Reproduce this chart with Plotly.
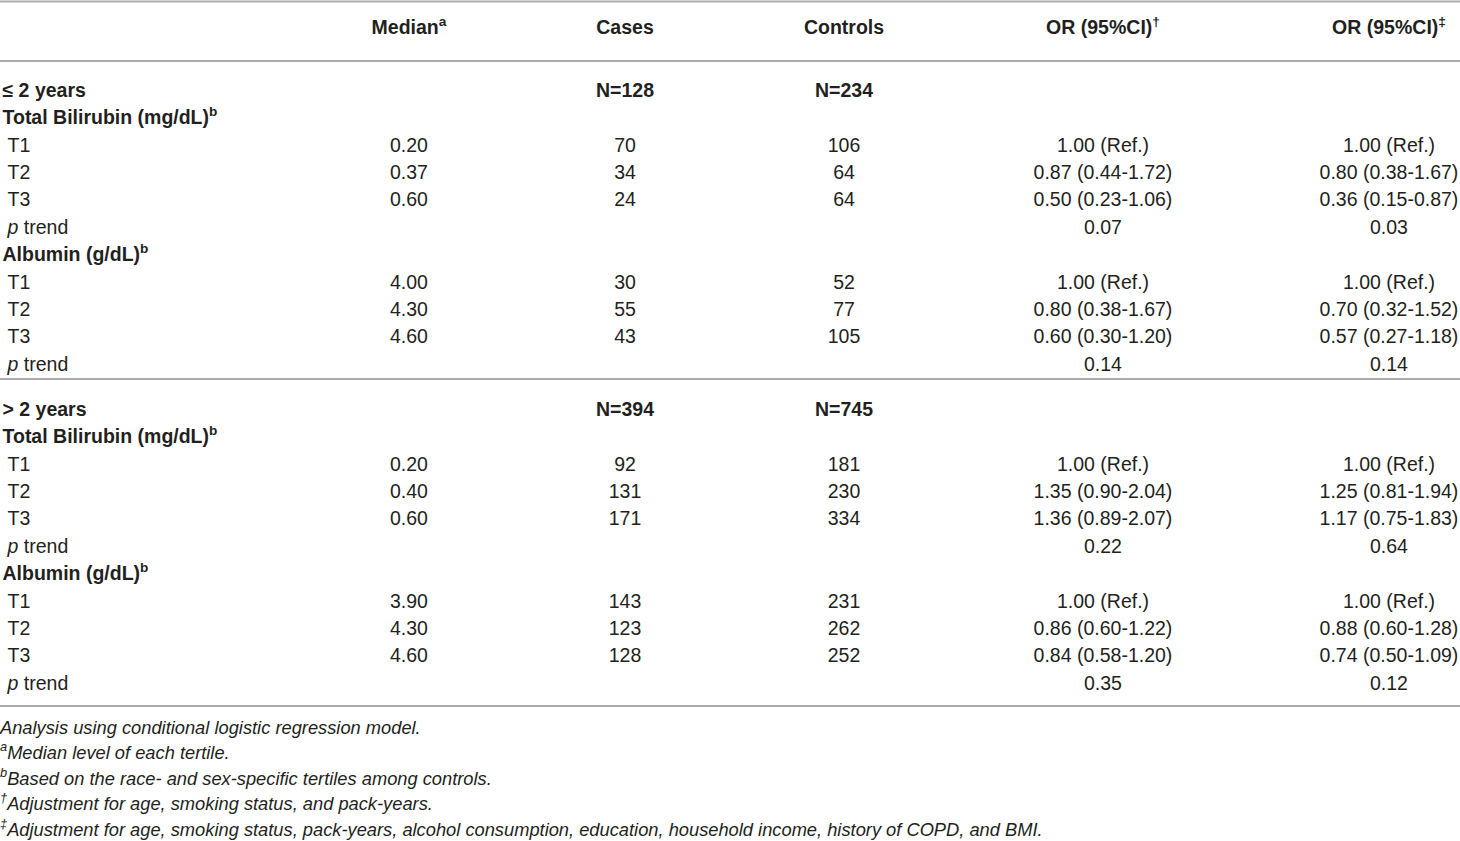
import plotly.graph_objects as go

# column headers
col_headers = ["Median<sup>a</sup>", "Cases", "Controls",
               "OR (95%CI)<sup>†</sup>", "OR (95%CI)<sup>‡</sup>"]

groups = ["≤ 2 years", "> 2 years"]
group_cases_n = ["N=128", "N=394"]
group_controls_n = ["N=234", "N=745"]
markers = ["Total Bilirubin (mg/dL)", "Albumin (g/dL)"]
tertiles = ["T1", "T2", "T3"]

# indexed [group][marker][tertile]
median = [[["0.20", "0.37", "0.60"], ["4.00", "4.30", "4.60"]],
          [["0.20", "0.40", "0.60"], ["3.90", "4.30", "4.60"]]]
cases = [[[70, 34, 24], [30, 55, 43]],
         [[92, 131, 171], [143, 123, 128]]]
controls = [[[106, 64, 64], [52, 77, 105]],
            [[181, 230, 334], [231, 262, 252]]]
or_adj1 = [[["1.00 (Ref.)", "0.87 (0.44-1.72)", "0.50 (0.23-1.06)"],
            ["1.00 (Ref.)", "0.80 (0.38-1.67)", "0.60 (0.30-1.20)"]],
           [["1.00 (Ref.)", "1.35 (0.90-2.04)", "1.36 (0.89-2.07)"],
            ["1.00 (Ref.)", "0.86 (0.60-1.22)", "0.84 (0.58-1.20)"]]]
or_adj2 = [[["1.00 (Ref.)", "0.80 (0.38-1.67)", "0.36 (0.15-0.87)"],
            ["1.00 (Ref.)", "0.70 (0.32-1.52)", "0.57 (0.27-1.18)"]],
           [["1.00 (Ref.)", "1.25 (0.81-1.94)", "1.17 (0.75-1.83)"],
            ["1.00 (Ref.)", "0.88 (0.60-1.28)", "0.74 (0.50-1.09)"]]]
p_trend1 = [["0.07", "0.14"], ["0.22", "0.35"]]
p_trend2 = [["0.03", "0.14"], ["0.64", "0.12"]]

footnotes = [
    "Analysis using conditional logistic regression model.",
    "<sup>a</sup>Median level of each tertile.",
    "<sup>b</sup>Based on the race- and sex-specific tertiles among controls.",
    "<sup>†</sup>Adjustment for age, smoking status, and pack-years.",
    "<sup>‡</sup>Adjustment for age, smoking status, pack-years, alcohol consumption, "
    "education, household income, history of COPD, and BMI.",
]

# layout in pixels (axes map 1:1 onto the 1460x841 figure)
W, H = 1460, 841
FONT = "Liberation Sans"
TXT = "#231f20"
RULE = "#acacac"
col_x = [409, 625, 844, 1103, 1389]
label_x, indent_x = 2.5, 7.5
header_y = 29
group_top = [92, 411]
row_step = 27.4
foot_top, foot_step = 729, 25.5
rules_y = [1.5, 61, 379, 706]

# flatten the table into rows
labels, label_xs, ys = [], [], []
cells = [[] for _ in col_x]
for g in range(len(groups)):
    rows = [("<b>%s</b>" % groups[g], label_x,
             ["", "<b>%s</b>" % group_cases_n[g], "<b>%s</b>" % group_controls_n[g], "", ""])]
    for m in range(len(markers)):
        rows.append(("<b>%s<sup>b</sup></b>" % markers[m], label_x, ["", "", "", "", ""]))
        for t in range(len(tertiles)):
            rows.append((tertiles[t], indent_x,
                         [median[g][m][t], str(cases[g][m][t]), str(controls[g][m][t]),
                          or_adj1[g][m][t], or_adj2[g][m][t]]))
        rows.append(("<i>p</i> trend", indent_x, ["", "", "", p_trend1[g][m], p_trend2[g][m]]))
    for r, (lab, lx, vals) in enumerate(rows):
        y = group_top[g] + r * row_step
        labels.append(lab)
        label_xs.append(lx)
        ys.append(y)
        for c, v in enumerate(vals):
            if v:
                cells[c].append((v, y))

fig = go.Figure()
font = dict(family=FONT, size=19.5, color=TXT)

# header row
fig.add_trace(go.Scatter(x=col_x, y=[header_y] * len(col_x), mode="text",
                         text=["<b>%s</b>" % h for h in col_headers],
                         textposition="middle center", textfont=font, cliponaxis=False))
# row labels
fig.add_trace(go.Scatter(x=label_xs, y=ys, mode="text", text=labels,
                         textposition="middle right", textfont=font, cliponaxis=False))
# value columns
for c, x in enumerate(col_x):
    fig.add_trace(go.Scatter(x=[x] * len(cells[c]), y=[y for _, y in cells[c]],
                             mode="text", text=[v for v, _ in cells[c]],
                             textposition="middle center", textfont=font,
                             cliponaxis=False))
# footnotes
fig.add_trace(go.Scatter(x=[0] * len(footnotes),
                         y=[foot_top + i * foot_step for i in range(len(footnotes))],
                         mode="text", text=["<i>%s</i>" % f for f in footnotes],
                         textposition="middle right", cliponaxis=False,
                         textfont=dict(family=FONT, size=18.3, color=TXT)))

for y in rules_y:
    fig.add_shape(type="line", xref="x", x0=0, x1=W, y0=y, y1=y,
                  line=dict(color=RULE, width=2))

fig.update_layout(
    width=W, height=H, showlegend=False, hovermode=False,
    margin=dict(l=0, r=0, t=0, b=0),
    paper_bgcolor="white", plot_bgcolor="white",
    xaxis=dict(range=[0, W], visible=False, fixedrange=True),
    yaxis=dict(range=[H, 0], visible=False, fixedrange=True),
)
# drop the browser's default body margin so the figure fills the window
fig.write_html("out.html", config={"displayModeBar": False},
               post_script="document.body.style.margin='0';"
                           "document.body.style.overflow='hidden';")
